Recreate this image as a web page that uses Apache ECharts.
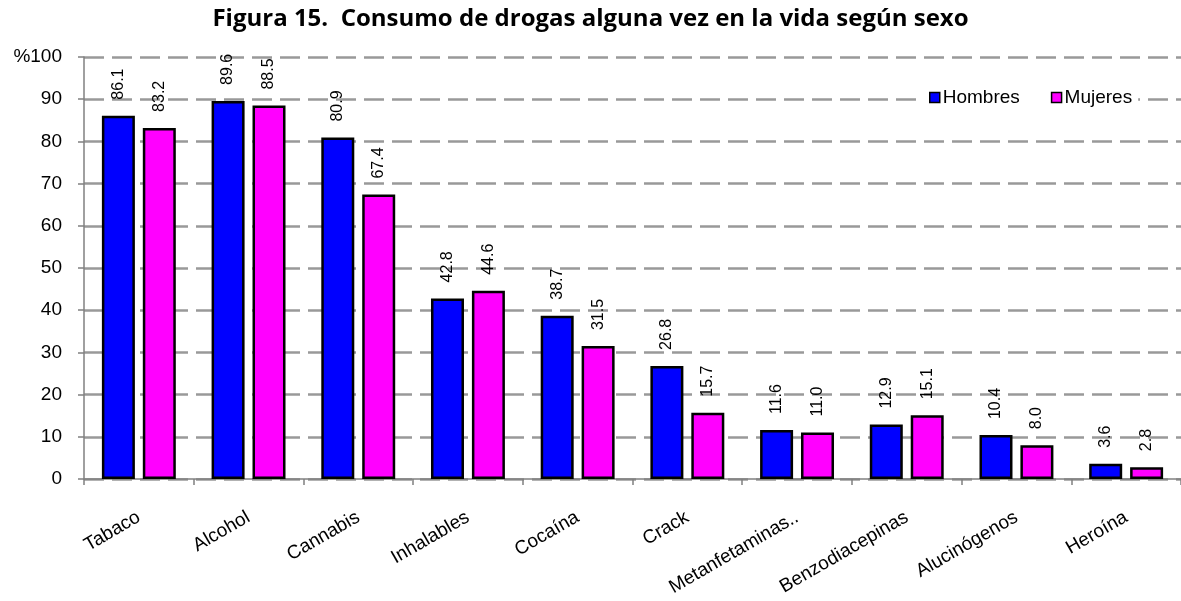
<!DOCTYPE html>
<html lang="es">
<head>
	<meta charset="UTF-8">
	<title>Figura 15</title>
	<script src="https://cdn.jsdelivr.net/npm/echarts@6/dist/echarts.min.js"></script>
	<style>
		body{margin:0;background:#fff;}
	</style>
</head>
<body>
	<div id="app" style="width:1181px;height:601px"></div>

	<script>
		// datos
		var categorias=["Tabaco","Alcohol","Cannabis","Inhalables","Cocaína","Crack","Metanfetaminas..","Benzodiacepinas","Alucinógenos","Heroína"];
		var hombres=[86.1, 89.6, 80.9, 42.8, 38.7, 26.8, 11.6, 12.9, 10.4, 3.6];
		var mujeres=[83.2, 88.5, 67.4, 44.6, 31.5, 15.7, 11.0, 15.1, 8.0, 2.8];
		var yMin=0, yMax=100, yPaso=10;

		var fuente='"Liberation Sans", Arial, sans-serif';

		var etiqueta={
			show:true,
			position:'top',
			rotate:90,
			align:'left',
			verticalAlign:'middle',
			distance:16,
			fontFamily:fuente,
			fontSize:16,
			color:'#000',
			formatter:function(p){return p.value.toFixed(1);}
		};

		var myChart=echarts.init(document.getElementById('app'));
		var option={
			animation:false,
			backgroundColor:'#fff',
			title:{
				text:"Figura 15.  Consumo de drogas alguna vez en la vida según sexo",
				left:'center',
				top:2,
				textStyle:{fontFamily:'"Open Sans", sans-serif',fontWeight:'bold',fontSize:24,color:'#000'}
			},
			legend:{
				data:["Hombres","Mujeres"],
				left:923,
				top:85,
				padding:[3,6],
				itemGap:31,
				itemWidth:10,
				itemHeight:10,
				icon:'rect',
				backgroundColor:'#fff',
				itemStyle:{borderColor:'#000',borderWidth:1.5},
				textStyle:{fontFamily:fuente,fontSize:19,color:'#000',padding:[0,0,0,-2]}
			},
			grid:{left:84,top:57,right:-6,bottom:122},
			xAxis:{
				type:"category",
				data:categorias,
				axisLine:{lineStyle:{color:'#808080',width:1.5}},
				axisTick:{show:true,length:6,lineStyle:{color:'#808080',width:1.5}},
				axisLabel:{rotate:30,margin:37,fontFamily:fuente,fontSize:19,color:'#000',interval:0}
			},
			yAxis:{
				type:"value",
				min:yMin,
				max:yMax,
				interval:yPaso,
				axisLine:{show:true,lineStyle:{color:'#808080',width:1.5}},
				axisTick:{show:true,length:6,lineStyle:{color:'#808080',width:1.5}},
				axisLabel:{
					margin:22,
					fontFamily:fuente,
					fontSize:19,
					color:'#000',
					formatter:function(v){return v===100?'%100':String(v);}
				},
				splitLine:{lineStyle:{color:'#999',width:2.5,type:[20,8]}}
			},
			series:[
				{
					name:"Hombres",
					type:"bar",
					data:hombres,
					barWidth:33,
					barGap:'24%',
					itemStyle:{color:'#0000ff',borderColor:'#000',borderWidth:2.5},
					label:etiqueta
				},
				{
					name:"Mujeres",
					type:"bar",
					data:mujeres,
					barWidth:33,
					itemStyle:{color:'#ff00ff',borderColor:'#000',borderWidth:2.5},
					label:etiqueta
				}
			]
		};
		myChart.setOption(option);
	</script>
</body>
</html>
